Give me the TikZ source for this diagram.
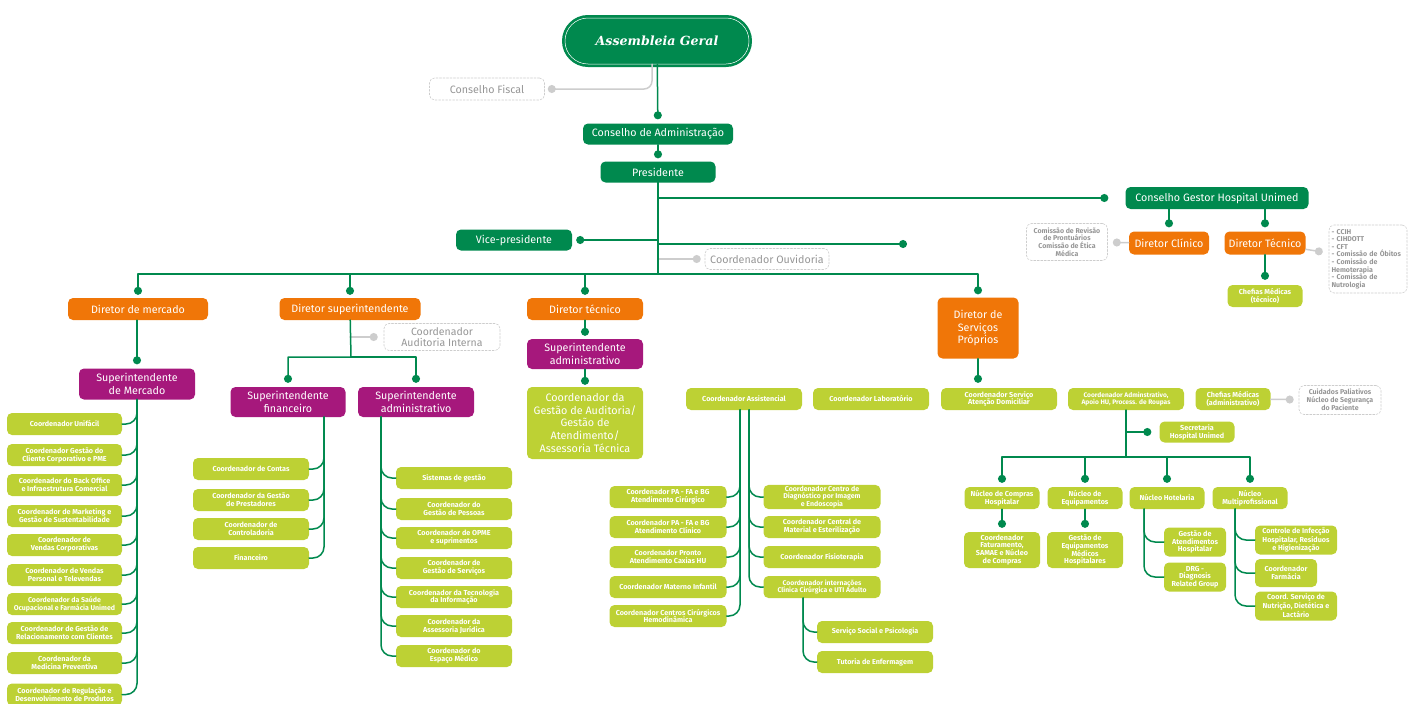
\documentclass[tikz,border=0pt]{standalone}
\usepackage{fontspec}
\setmainfont{Fira Sans}
\newfontfamily\slabfont{DejaVu Serif}
\usetikzlibrary{arrows.meta}
\definecolor{ugreen}{RGB}{0,137,78}
\definecolor{uorange}{RGB}{240,118,8}
\definecolor{upurple}{RGB}{166,24,124}
\definecolor{ulime}{RGB}{189,209,52}
\definecolor{ugray}{RGB}{205,205,205}
\definecolor{utext}{RGB}{150,150,150}
\begin{document}
\begin{tikzpicture}[line cap=round,line join=round, x=1pt,y=-1pt,
  bigtxt/.style={font=\fontsize{10.7}{12.5}\selectfont},
  smalltxt/.style={font=\fontsize{7.2}{7.9}\selectfont\bfseries},
  basebox/.style={rounded corners=5pt, inner sep=1pt, align=center, text=white},
  agbox/.style={basebox, rounded corners=23pt, fill=ugreen, draw=white, line width=0.5pt,
    preaction={draw=ugreen, line width=6pt}, minimum width=184pt, minimum height=46pt,
    font=\slabfont\bfseries\itshape\fontsize{12.6}{14}\selectfont},
  topbox/.style={basebox, fill=ugreen, bigtxt, minimum height=21pt},
  dirbox/.style={basebox, fill=uorange, bigtxt, minimum height=22pt},
  supbox/.style={basebox, fill=upurple, bigtxt, minimum width=116pt, minimum height=30pt},
  coordbox/.style={basebox, fill=ulime, smalltxt, minimum width=116pt, minimum height=22pt},
  notebox/.style={basebox, draw=ugray, line width=0.6pt, dash pattern=on 2pt off 1.5pt, text=utext, bigtxt},
  conn/.style={draw=ugreen, line width=1.5pt},
  gconn/.style={draw=ugray, line width=1.5pt},
  dotend/.style={-{Circle[length=8pt]}, shorten >=4pt},
  elbow/.style={conn, rounded corners=11pt}]
\useasboundingbox (0,0) rectangle (1408,704);

\node[agbox] (ag) at (657,41) {Assembleia Geral};
\node[notebox, minimum width=115pt, minimum height=22pt] (cf) at (487,89) {Conselho Fiscal};
\node[topbox, minimum width=150pt] (cadm) at (658,134) {Conselho de Administração};
\node[topbox, minimum width=115pt] (pres) at (658,172) {Presidente};
\node[topbox, minimum width=183pt, minimum height=22pt] (cgh) at (1217,198) {Conselho Gestor Hospital Unimed};
\node[topbox, minimum width=116pt] (vp) at (514,240) {Vice-presidente};
\coordinate (vpend) at (907,244);
\node[notebox, minimum width=124pt, minimum height=21pt] (ouv) at (767,259) {Coordenador Ouvidoria};
\coordinate (splitP) at (658,274);

\node[dirbox, minimum width=140pt] (dmerc) at (138,309) {Diretor de mercado};
\node[dirbox, minimum width=141pt] (dsup) at (350,309) {Diretor superintendente};
\node[dirbox, minimum width=116pt] (dtec) at (585,309) {Diretor técnico};
\node[dirbox, minimum width=81pt, minimum height=61pt] (dsp) at (978,328) {Diretor de\\Serviços\\Próprios};

\node[dirbox, minimum width=80pt, minimum height=23pt] (dclin) at (1169,243) {Diretor Clínico};
\node[dirbox, minimum width=81pt, minimum height=23pt] (dtcn) at (1265,243) {Diretor Técnico};
\node[notebox, smalltxt, minimum width=81pt, minimum height=37pt, font=\fontsize{7}{7.6}\selectfont\bfseries] (crev) at (1067,242) {Comissão de Revisão\\de Prontuários\\Comissão de Ética\\Médica};
\node[notebox, smalltxt, align=left, text width=73pt, minimum width=78pt, minimum height=68pt, font=\fontsize{7}{7.6}\selectfont\bfseries] (clist) at (1368,259) {- CCIH\\- CIHDOTT\\- CFT\\- Comissão de Óbitos\\- Comissão de\\Hemoterapia\\- Comissão de\\Nutrologia};
\node[coordbox, minimum width=75pt] (chtec) at (1265,296) {Chefias Médicas\\(técnico)};

\node[supbox, minimum height=31pt] (supm) at (137,384) {Superintendente\\de Mercado};
\node[coordbox, minimum width=115pt] (m1) at (64.5,424) {Coordenador Unifácil};
\node[coordbox, minimum width=115pt] (m2) at (64.5,455) {Coordenador Gestão do\\Cliente Corporativo e PME};
\node[coordbox, minimum width=115pt] (m3) at (64.5,485) {Coordenador do Back Office\\e Infraestrutura Comercial};
\node[coordbox, minimum width=115pt] (m4) at (64.5,516) {Coordenador de Marketing e\\Gestão de Sustentabilidade};
\node[coordbox, minimum width=115pt] (m5) at (64.5,545) {Coordenador de\\Vendas Corporativas};
\node[coordbox, minimum width=115pt] (m6) at (64.5,575) {Coordenador de Vendas\\Personal e Televendas};
\node[coordbox, minimum width=115pt, font=\fontsize{7}{7.9}\selectfont\bfseries] (m7) at (64.5,604) {Coordenador da Saúde\\Ocupacional e Farmácia Unimed};
\node[coordbox, minimum width=115pt] (m8) at (64.5,633) {Coordenador de Gestão de\\Relacionamento com Clientes};
\node[coordbox, minimum width=115pt] (m9) at (64.5,663) {Coordenador da\\Medicina Preventiva};
\node[coordbox, minimum width=115pt] (m10) at (64.5,694.5) {Coordenador de Regulação e\\Desenvolvimento de Produtos};

\node[notebox, minimum width=116pt, minimum height=27pt, font=\fontsize{10.5}{11}\selectfont] (audi) at (442,337) {Coordenador\\Auditoria Interna};
\coordinate (splitS) at (351,357);
\node[supbox, minimum width=115pt] (sfin) at (288,402) {Superintendente\\financeiro};
\node[supbox] (sadm) at (416,402) {Superintendente\\administrativo};
\coordinate (sfinbus) at (324,417);
\coordinate (sadmbus) at (381,417);
\node[coordbox] (f1) at (251,469) {Coordenador de Contas};
\node[coordbox] (f2) at (251,500) {Coordenador da Gestão\\de Prestadores};
\node[coordbox] (f3) at (251,529) {Coordenador de\\Controladoria};
\node[coordbox] (f4) at (251,558) {Financeiro};
\node[coordbox] (a1) at (454,478) {Sistemas de gestão};
\node[coordbox] (a2) at (454,509) {Coordenador do\\Gestão de Pessoas};
\node[coordbox] (a3) at (454,538) {Coordenador de OPME\\e suprimentos};
\node[coordbox] (a4) at (454,568) {Coordenador de\\Gestão de Serviços};
\node[coordbox] (a5) at (454,597) {Coordenador da Tecnologia\\da Informação};
\node[coordbox] (a6) at (454,626) {Coordenador da\\Assessoria Jurídica};
\node[coordbox] (a7) at (454,656) {Coordenador do\\Espaço Médico};

\node[supbox] (sadm2) at (585,354) {Superintendente\\administrativo};
\node[basebox, fill=ulime, font=\fontsize{10.8}{12.7}\selectfont, minimum width=116pt, minimum height=72pt] (caud) at (585,423) {Coordenador da\\Gestão de Auditoria/\\Gestão de\\Atendimento/\\Assessoria Técnica};
\node[coordbox] (cass) at (744,399) {Coordenador Assistencial};
\node[coordbox] (clab) at (871,399) {Coordenador Laboratório};
\coordinate (cassL) at (740,410);
\coordinate (cassR) at (749,410);
\node[coordbox, minimum width=117pt] (p1) at (668,497) {Coordenador PA - FA e BG\\Atendimento Cirúrgico};
\node[coordbox, minimum width=117pt] (p2) at (668,527) {Coordenador PA - FA e BG\\Atendimento Clínico};
\node[coordbox, minimum width=117pt] (p3) at (668,557) {Coordenador Pronto\\Atendimento Caxias HU};
\node[coordbox, minimum width=117pt] (p4) at (668,587) {Coordenador Materno Infantil};
\node[coordbox, minimum width=117pt] (p5) at (668,616) {Coordenador Centros Cirúrgicos\\Hemodinâmica};
\node[coordbox, minimum width=117pt, font=\fontsize{7}{7}\selectfont\bfseries] (q1) at (822,497) {Coordenador Centro de\\Diagnóstico por Imagem\\e Endoscopia};
\node[coordbox, minimum width=117pt] (q2) at (822,527) {Coordenador Central de\\Material e Esterilização};
\node[coordbox, minimum width=117pt] (q3) at (822,557) {Coordenador Fisioterapia};
\node[coordbox, minimum width=117pt, font=\fontsize{6.8}{7.9}\selectfont\bfseries] (q4) at (822,587) {Coordenador internações\\Clínica Cirúrgica e UTI Adulto};
\coordinate (cintbus) at (803,598);
\node[coordbox] (s1) at (875,632) {Serviço Social e Psicologia};
\node[coordbox] (s2) at (875,662) {Tutoria de Enfermagem};

\node[coordbox] (csad) at (999,399) {Coordenador Serviço\\Atenção Domiciliar};
\node[coordbox, font=\fontsize{6.6}{7.6}\selectfont\bfseries] (cadmin) at (1126,399) {Coordenador Adminstrativo,\\Apoio HU, Process. de Roupas};
\node[coordbox, minimum width=75pt] (chadm) at (1233,399) {Chefias Médicas\\(administrativo)};
\node[notebox, smalltxt, minimum width=82pt, minimum height=29pt, font=\fontsize{7}{7.4}\selectfont\bfseries] (cuid) at (1340,400) {Cuidados Paliativos\\Núcleo de Segurança\\do Paciente};
\node[coordbox, minimum width=75pt, minimum height=21pt] (secr) at (1197,432) {Secretaria\\Hospital Unimed};
\coordinate (splitN) at (1126,457);
\node[coordbox, minimum width=75pt] (ncomp) at (1002,498) {Núcleo de Compras\\Hospitalar};
\node[coordbox, minimum width=75pt] (nequip) at (1085,498) {Núcleo de\\Equipamentos};
\node[coordbox, minimum width=75pt] (nhot) at (1167,498) {Núcleo Hotelaria};
\node[coordbox, minimum width=75pt] (nmulti) at (1250,498) {Núcleo\\Multiprofissional};
\node[coordbox, minimum width=76pt, minimum height=36pt] (cfat) at (1002,550) {Coordenador\\Faturamento,\\SAMAE e Núcleo\\de Compras};
\node[coordbox, minimum width=76pt, minimum height=36pt] (gequip) at (1085,550) {Gestão de\\Equipamentos\\Médicos\\Hospitalares};
\coordinate (nhotbus) at (1144,509);
\coordinate (nmultibus) at (1235,509);
\node[coordbox, minimum width=62pt, minimum height=29pt, font=\fontsize{7.2}{7.4}\selectfont\bfseries] (h1) at (1195,542) {Gestão de\\Atendimentos\\Hospitalar};
\node[coordbox, minimum width=62pt, minimum height=29pt, font=\fontsize{7.2}{7.4}\selectfont\bfseries] (h2) at (1195,577) {DRG -\\Diagnosis\\Related Group};
\node[coordbox, minimum width=82pt, minimum height=29pt, font=\fontsize{7.2}{7.4}\selectfont\bfseries] (u1) at (1296,540) {Controle de Infecção\\Hospitalar, Resíduos\\e Higienização};
\node[coordbox, minimum width=62pt, minimum height=28pt] (u2) at (1286,573) {Coordenador\\Farmácia};
\node[coordbox, minimum width=82pt, minimum height=29pt, font=\fontsize{7.2}{7.4}\selectfont\bfseries] (u3) at (1296,606) {Coord. Serviço de\\Nutrição, Dietética e\\Lactário};

\draw[gconn, rounded corners=8pt, -{Circle[length=8pt]}, shorten >=3pt] ([xshift=-5pt]ag.south) |- (cf);
\draw[conn, dotend] (ag) -- (cadm);
\draw[conn, dotend, shorten >=3pt] (cadm) -- (pres);
\draw[conn, dotend, shorten >=17pt] (pres) |- (cgh);
\draw[conn, dotend] (pres) |- (vp);
\draw[conn, dotend, shorten >=0pt] (pres) |- (vpend);
\draw[gconn, -{Circle[length=8pt]}, shorten >=4pt] (pres |- ouv) -- (ouv);
\draw[conn, dotend, shorten >=3pt] (pres) -- (splitP) -| (dmerc);
\draw[conn, dotend, shorten >=3pt] (splitP) -| (dsup);
\draw[conn, dotend, shorten >=3pt] (splitP) -| (dtec);
\draw[conn, dotend, shorten >=3pt] (splitP) -| (dsp);

\draw[conn, dotend] (cgh.south -| dclin) -- (dclin);
\draw[conn, dotend] (cgh.south -| dtcn) -- (dtcn);
\draw[gconn, -{Circle[length=8pt]}, shorten >=5pt] (dclin) -- (crev);
\draw[gconn, -{Circle[length=8pt]}, shorten >=6pt] (dtcn) -- (clist);
\draw[conn, dotend, shorten >=5pt] (dtcn) -- (chtec);

\draw[conn, dotend] (dmerc.south -| supm) -- (supm);
\draw[elbow] (supm) |- (m1);
\draw[elbow] (supm) |- (m2);
\draw[elbow] (supm) |- (m3);
\draw[elbow] (supm) |- (m4);
\draw[elbow] (supm) |- (m5);
\draw[elbow] (supm) |- (m6);
\draw[elbow] (supm) |- (m7);
\draw[elbow] (supm) |- (m8);
\draw[elbow] (supm) |- (m9);
\draw[elbow] (supm) |- (m10);

\draw[gconn, -{Circle[length=8pt]}, shorten >=6pt] (dsup |- audi) -- (audi);
\draw[conn, dotend] (dsup) -- (splitS) -| (sfin);
\draw[conn, dotend] (splitS) -| (sadm);
\draw[elbow] (sfinbus) |- (f1);
\draw[elbow] (sfinbus) |- (f2);
\draw[elbow] (sfinbus) |- (f3);
\draw[elbow] (sfinbus) |- (f4);
\draw[elbow] (sadmbus) |- (a1);
\draw[elbow] (sadmbus) |- (a2);
\draw[elbow] (sadmbus) |- (a3);
\draw[elbow] (sadmbus) |- (a4);
\draw[elbow] (sadmbus) |- (a5);
\draw[elbow] (sadmbus) |- (a6);
\draw[elbow] (sadmbus) |- (a7);

\draw[conn, dotend, shorten >=3pt] (dtec) -- (sadm2);
\draw[conn, dotend, shorten >=2pt] (sadm2) -- (caud);
\draw[elbow] (cassL) |- (p1);
\draw[elbow] (cassL) |- (p2);
\draw[elbow] (cassL) |- (p3);
\draw[elbow] (cassL) |- (p4);
\draw[elbow] (cassL) |- (p5);
\draw[elbow] (cassR) |- (q1);
\draw[elbow] (cassR) |- (q2);
\draw[elbow] (cassR) |- (q3);
\draw[elbow] (cassR) |- (q4);
\draw[elbow] (cintbus) |- (s1);
\draw[elbow] (cintbus) |- (s2);

\draw[conn, dotend, shorten >=5pt] (dsp) -- (dsp |- csad.north);
\draw[gconn, -{Circle[length=8pt]}, shorten >=5pt] (chadm) -- (cuid);
\draw[conn, dotend, shorten >=8pt] (cadmin) |- (secr);
\draw[conn, dotend] (cadmin) -- (splitN) -| (ncomp);
\draw[conn, dotend] (splitN) -| (nequip);
\draw[conn, dotend] (splitN) -| (nhot);
\draw[conn, dotend] (splitN) -| (nmulti);
\draw[conn, dotend] (ncomp) -- (cfat);
\draw[conn, dotend] (nequip) -- (gequip);
\draw[elbow] (nhotbus) |- (h1);
\draw[elbow] (nhotbus) |- (h2);
\draw[elbow] (nmultibus) |- (u1);
\draw[elbow] (nmultibus) |- (u2);
\draw[elbow] (nmultibus) |- (u3);
\end{tikzpicture}
\end{document}
